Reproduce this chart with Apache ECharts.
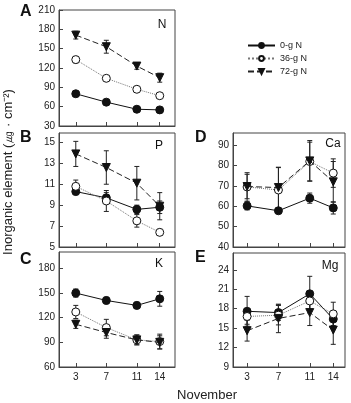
<!DOCTYPE html>
<html>
<head>
<meta charset="utf-8">
<script src="https://cdn.jsdelivr.net/npm/echarts@6/dist/echarts.min.js"></script>
<style>
  html, body { margin: 0; padding: 0; background: #fff; }
  #chart { width: 351px; height: 403px; }
</style>
</head>
<body>
<div id="chart"></div>
<script>
// sampling days (November)
var days = [3, 7, 11, 14];
var groupNames = ['0-g N', '36-g N', '72-g N'];

// A: N
var n0 = [80, 67, 56, 55],        n0Err = [3, 3, 2, 2];
var n36 = [133, 104, 87, 77],     n36Err = [5, 4, 3, 3];
var n72 = [171, 153, 123, 105],   n72Err = [6, 10, 5, 7];
// B: P
var p0 = [10.3, 9.7, 8.6, 8.8],   p0Err = [0.3, 0.5, 0.4, 0.6];
var p36 = [10.8, 9.4, 7.5, 6.4],  p36Err = [0.6, 1.0, 0.6, 0.3];
var p72 = [13.9, 12.6, 11.1, 8.9], p72Err = [1.2, 1.6, 1.6, 1.3];
// C: K
var k0 = [150, 141, 135, 143],    k0Err = [5, 4, 4, 9];
var k36 = [127, 108, 93, 91],     k36Err = [8, 10, 6, 9];
var k72 = [112, 102, 93, 90],     k72Err = [5, 7, 6, 8];
// D: Ca
var ca0 = [60.2, 57.8, 64, 59.2], ca0Err = [2, 1, 2.5, 3];
var ca36 = [69.5, 68, 82, 76.3],  ca36Err = [7, 11, 9.5, 7];
var ca72 = [69.7, 69.2, 82.3, 72], ca72Err = [6, 10, 10, 10];
// E: Mg
var mg0 = [17.6, 17.4, 20.3, 16.4], mg0Err = [2.3, 1.2, 2.7, 1.2];
var mg36 = [16.8, 17, 19.2, 17.2],  mg36Err = [1.2, 1.5, 1.5, 1.8];
var mg72 = [14.6, 16.5, 17.4, 14.7], mg72Err = [1.6, 2.2, 2, 2.2];

// y tick labels per panel
var yTicksA = [30, 60, 90, 120, 150, 180, 210];
var yTicksB = [5, 7, 9, 11, 13, 15];
var yTicksC = [60, 90, 120, 150, 180];
var yTicksD = [40, 50, 60, 70, 80, 90];
var yTicksE = [9, 12, 15, 18, 21, 24];

var panels = [
  { letter: 'A', elem: 'N',  vals: [n0, n36, n72],   errs: [n0Err, n36Err, n72Err],    ticks: yTicksA, min: 30, max: 210 },
  { letter: 'B', elem: 'P',  vals: [p0, p36, p72],   errs: [p0Err, p36Err, p72Err],    ticks: yTicksB, min: 5,  max: 15.9 },
  { letter: 'C', elem: 'K',  vals: [k0, k36, k72],   errs: [k0Err, k36Err, k72Err],    ticks: yTicksC, min: 60, max: 200 },
  { letter: 'D', elem: 'Ca', vals: [ca0, ca36, ca72], errs: [ca0Err, ca36Err, ca72Err], ticks: yTicksD, min: 40, max: 96 },
  { letter: 'E', elem: 'Mg', vals: [mg0, mg36, mg72], errs: [mg0Err, mg36Err, mg72Err], ticks: yTicksE, min: 9,  max: 26.6 }
];

// layout of each panel box
var boxes = [
  { left: 59,  top: 10,  width: 116, height: 116, xmin: 0.8, xmax: 16,   xlab: false, lx: 27,  ly: 13,  ex: 162, ey: 25 },
  { left: 59,  top: 133, width: 116, height: 114, xmin: 0.8, xmax: 16,   xlab: false, lx: 27,  ly: 139, ex: 159, ey: 146 },
  { left: 59,  top: 252, width: 116, height: 115, xmin: 0.8, xmax: 16,   xlab: true,  lx: 27,  ly: 261, ex: 159, ey: 264 },
  { left: 233, top: 133, width: 112, height: 114, xmin: 1.2, xmax: 15.5, xlab: false, lx: 202, ly: 139, ex: 333, ey: 144 },
  { left: 233, top: 253, width: 112, height: 114, xmin: 1.2, xmax: 15.5, xlab: true,  lx: 202, ly: 259, ex: 330, ey: 266 }
];

var axisColor = '#444';
var font = 'Liberation Sans, Arial, sans-serif';

var lineStyles = [
  { type: 'solid', color: '#111', width: 1 },
  { type: 'dotted', color: '#777', width: 1 },
  { type: [6, 3], color: '#222', width: 1 }
];
var symbols = ['circle', 'circle', 'triangle'];
var symbolSizes = [8, 8, 8];
var symbolRotates = [0, 0, 180];
var itemStyles = [
  { color: '#111', borderColor: '#111', borderWidth: 1 },
  { color: '#fff', borderColor: '#111', borderWidth: 1 },
  { color: '#111', borderColor: '#111', borderWidth: 1 }
];

function errRender(params, api) {
  var x = api.value(0), y = api.value(1), e = api.value(2);
  var hi = api.coord([x, y + e]);
  var lo = api.coord([x, y - e]);
  var w = 2.5;
  var st = { stroke: '#222', lineWidth: 1 };
  return {
    type: 'group',
    children: [
      { type: 'line', shape: { x1: hi[0], y1: hi[1], x2: lo[0], y2: lo[1] }, style: st },
      { type: 'line', shape: { x1: hi[0] - w, y1: hi[1], x2: hi[0] + w, y2: hi[1] }, style: st },
      { type: 'line', shape: { x1: lo[0] - w, y1: lo[1], x2: lo[0] + w, y2: lo[1] }, style: st }
    ]
  };
}

var grids = [], xAxes = [], yAxes = [], series = [], graphics = [];

panels.forEach(function (p, i) {
  var b = boxes[i];
  grids.push({
    left: b.left, top: b.top, width: b.width, height: b.height,
    show: true, borderColor: axisColor, borderWidth: 1, backgroundColor: 'transparent'
  });
  xAxes.push({
    type: 'value', gridIndex: i, min: b.xmin, max: b.xmax,
    axisLine: { show: true, lineStyle: { color: axisColor } },
    axisTick: { show: true, inside: true, length: 4, customValues: days, lineStyle: { color: axisColor } },
    axisLabel: { show: b.xlab, customValues: days, margin: 5, fontSize: 10, fontFamily: font, color: '#222' },
    splitLine: { show: false }
  });
  yAxes.push({
    type: 'value', gridIndex: i, min: p.min, max: p.max,
    axisLine: { show: true, lineStyle: { color: axisColor } },
    axisTick: { show: true, inside: true, length: 4, customValues: p.ticks, lineStyle: { color: axisColor } },
    axisLabel: { customValues: p.ticks, margin: 4, fontSize: 10, fontFamily: font, color: '#222' },
    splitLine: { show: false }
  });

  for (var g = 0; g < 3; g++) {
    var errData = days.map(function (d, k) { return [d, p.vals[g][k], p.errs[g][k]]; });
    series.push({
      type: 'custom', xAxisIndex: i, yAxisIndex: i, z: 1,
      renderItem: errRender, data: errData, encode: { x: 0, y: 1 }, silent: true
    });
  }
  for (var g2 = 0; g2 < 3; g2++) {
    var pts = days.map(function (d, k) { return [d, p.vals[g2][k]]; });
    series.push({
      name: groupNames[g2], type: 'line', xAxisIndex: i, yAxisIndex: i, z: 3 + g2,
      data: pts, symbol: symbols[g2], symbolSize: symbolSizes[g2], symbolRotate: symbolRotates[g2],
      showAllSymbol: true, lineStyle: lineStyles[g2], itemStyle: itemStyles[g2],
      animation: false
    });
  }

  graphics.push({
    type: 'text', left: b.lx - 7, top: b.ly - 9,
    style: { text: p.letter, font: 'bold 16px ' + font, fill: '#111' }
  });
  graphics.push({
    type: 'text', x: b.ex, y: b.ey,
    style: { text: p.elem, font: '12px ' + font, fill: '#111', align: 'center', verticalAlign: 'middle' }
  });
});

graphics.push({
  type: 'text', x: 8, y: 172, rotation: Math.PI / 2,
  style: { text: 'Inorganic element (㎍ · cm⁻²)', font: '13px ' + font, fill: '#222', align: 'center', verticalAlign: 'middle' }
});
graphics.push({
  type: 'text', x: 207, y: 395,
  style: { text: 'November', font: '13px ' + font, fill: '#222', align: 'center', verticalAlign: 'middle' }
});

var chart = echarts.init(document.getElementById('chart'));
chart.setOption({
  animation: false,
  backgroundColor: '#fff',
  legend: {
    data: groupNames, orient: 'vertical', left: 242, top: 36,
    itemWidth: 27, itemHeight: 6, itemGap: 4,
    textStyle: { fontSize: 9, fontFamily: font, color: '#222' }
  },
  grid: grids,
  xAxis: xAxes,
  yAxis: yAxes,
  series: series,
  graphic: graphics
});
</script>
</body>
</html>
